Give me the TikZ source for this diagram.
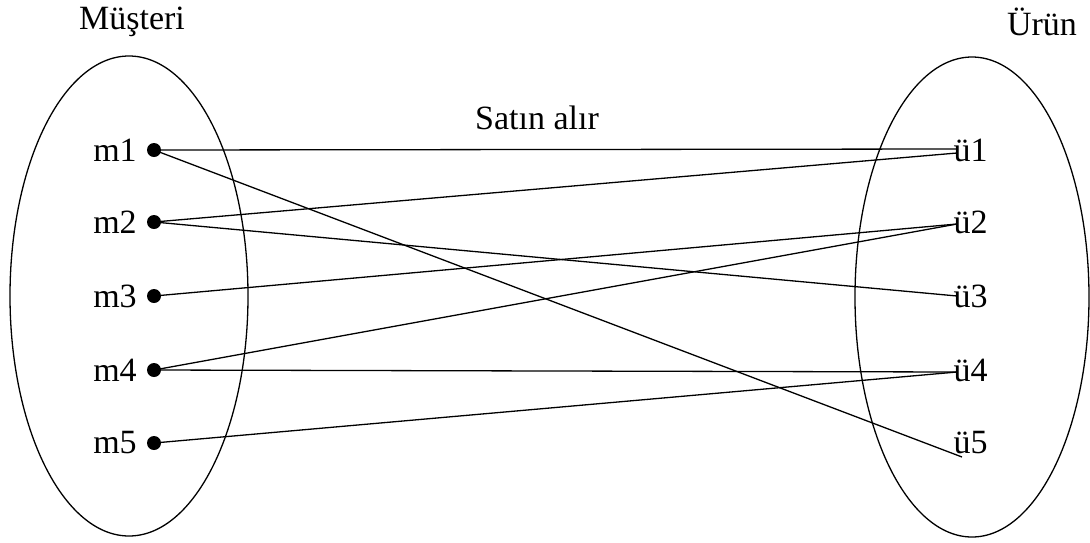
\documentclass[tikz,border=0pt]{standalone}
\usepackage{fontspec}
\setmainfont{Liberation Serif}
\usetikzlibrary{positioning}

\begin{document}
\begin{tikzpicture}[x=1pt, y=-1pt, line width=1.3pt,
  lbl/.style={inner sep=0pt, font=\fontsize{34}{40}\selectfont},
  dot/.style={circle, fill, inner sep=0pt, minimum size=14pt}]
\useasboundingbox (0,0) rectangle (1090,542);
% the two sets
\draw (129,296) ellipse [x radius=119, y radius=240];
\draw (972,297) ellipse [x radius=117, y radius=240];
\node[lbl] (musteri) at (132,22) {Müşteri};
\node[lbl] (urun) at (1042,22) {Ürün};
\node[lbl] (satin) at (537,118) {Satın alır};
% customers
\foreach \i/\y in {1/150, 2/222, 3/296, 4/370, 5/443} {
  \node[dot] (m\i) at (154,\y) {};
  \node[lbl, left=9pt of m\i] (ml\i) {m\i};
}
% products
\foreach \i/\y in {1/150, 2/222, 3/296, 4/370, 5/443} {
  \node[lbl, anchor=west] (u\i) at (953,\y) {ü\i};
}
\coordinate (e1) at (957,149);
\coordinate (f1) at (957,153);
\coordinate (e2) at (957,224);
\coordinate (e3) at (957,296);
\coordinate (e4) at (957,372);
\coordinate (e5) at (962,457);
\draw (m1.center) -- (e1);
\draw (m1.center) -- (e5);
\draw (m2.center) -- (f1);
\draw (m2.center) -- (e3);
\draw (m3.center) -- (e2);
\draw (m4.center) -- (e2);
\draw (m4.center) -- (e4);
\draw (m5.center) -- (e4);
\end{tikzpicture}
\end{document}
